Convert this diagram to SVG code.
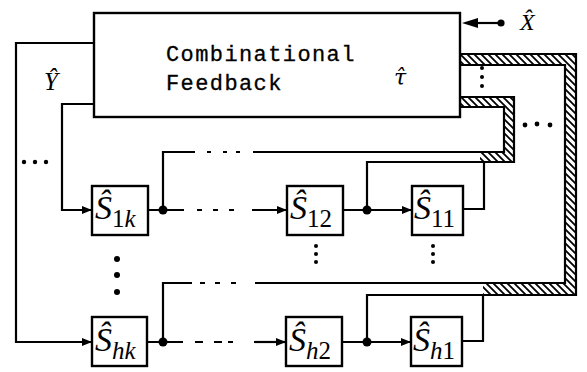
<svg xmlns="http://www.w3.org/2000/svg" width="587" height="372" viewBox="0 0 587 372">
<style>
.w{fill:none;stroke:#000;stroke-width:2.2;stroke-linejoin:miter;stroke-linecap:butt}
.bx{fill:#fff;stroke:#000;stroke-width:2.4}
.dot{fill:#000}
.mono{font-family:"Liberation Mono","DejaVu Sans Mono",monospace;font-size:22px;letter-spacing:1.4px;fill:#000;stroke:#000;stroke-width:0.3}
.m{font-family:"Liberation Serif","DejaVu Serif",serif;font-style:italic;fill:#000}
.dj{font-family:"DejaVu Serif","Liberation Serif",serif;font-style:italic;fill:#000}
.s{font-size:34px}
.sub{font-size:25px}
.up{font-style:normal}
.hatch{fill:url(#hp);stroke:none}
</style>
<defs>
<pattern id="hp" patternUnits="userSpaceOnUse" width="7" height="7">
<path d="M0,0 L7,7 M-1,6 L1,8 M6,-1 L8,1" stroke="#000" stroke-width="1.8"/>
</pattern>
<marker id="ar" viewBox="0 0 10 8" refX="10" refY="4" markerWidth="10" markerHeight="8" markerUnits="userSpaceOnUse" orient="auto">
<path d="M0,0 L10,4 L0,8 Z" fill="#000"/>
</marker>
</defs>

<g id="feedback">
<rect class="bx" x="94" y="13" width="366" height="104"/>
<text class="mono" x="166" y="61">Combinational</text>
<text class="mono" x="166" y="90">Feedback</text>
<text class="dj" x="394" y="85" font-size="22">τ̂</text>
</g>

<g id="connectors">
<polygon class="hatch" points="460,54 576,54 576,295 483,295 483,283 565,283 565,65 460,65"/>
<polygon class="hatch" points="460,97 514,97 514,162 480,162 480,152 504,152 504,107 460,107"/>
<polyline class="w" points="460,54 576,54 576,295 367,295 367,342"/>
<polyline class="w" points="460,65 565,65 565,283 255,283"/>
<polyline class="w" points="460,97 514,97 514,162 367,162 367,210"/>
<polyline class="w" points="460,107 504,107 504,152 253,152"/>
<polyline class="w" points="463,209 484,209 484,162"/>
<polyline class="w" points="462,341 483,341 483,295"/>
<polyline class="w" points="195,152 163,152 163,210"/>
<path class="w" d="M207,152h4 M223,152h4 M236,152h4"/>
<polyline class="w" points="192,283 163,283 163,342"/>
<path class="w" d="M200,283h5 M215,283h5 M231,283h5"/>
<polyline class="w" points="94,104 62,104 62,210 92,210" marker-end="url(#ar)"/>
<polyline class="w" points="94,43 16,43 16,342 92,342" marker-end="url(#ar)"/>
<line class="w" x1="148" y1="210" x2="184" y2="210"/>
<path class="w" d="M197,210h5 M213,210h5 M229,210h5"/>
<line class="w" x1="252" y1="210" x2="287" y2="210" marker-end="url(#ar)"/>
<line class="w" x1="343" y1="210" x2="412" y2="210" marker-end="url(#ar)"/>
<line class="w" x1="147" y1="342" x2="183" y2="342"/>
<path class="w" d="M195,342h8 M214,342h8 M228,342h5"/>
<line class="w" x1="254" y1="342" x2="286" y2="342" marker-end="url(#ar)"/>
<line class="w" x1="342" y1="342" x2="411" y2="342" marker-end="url(#ar)"/>
<circle class="dot" cx="163" cy="210" r="4.5"/>
<circle class="dot" cx="367" cy="210" r="4.5"/>
<circle class="dot" cx="163" cy="342" r="4.5"/>
<circle class="dot" cx="367" cy="342" r="4.5"/>
<line class="w" x1="478" y1="23" x2="501" y2="23"/>
<path d="M462,23 L478,18 L478,28 Z" fill="#000"/>
<circle class="dot" cx="501" cy="23" r="3.6"/>
<g class="dot">
<circle cx="24" cy="162" r="2.2"/><circle cx="35" cy="162" r="2.2"/><circle cx="46" cy="162" r="2.2"/>
<circle cx="117" cy="259" r="3"/><circle cx="117" cy="275" r="3"/><circle cx="117" cy="292" r="3"/>
<circle cx="316" cy="246" r="2"/><circle cx="316" cy="254" r="2"/><circle cx="316" cy="262" r="2"/>
<circle cx="433" cy="246" r="2"/><circle cx="433" cy="254" r="2"/><circle cx="433" cy="262" r="2"/>
<circle cx="482" cy="68" r="2"/><circle cx="482" cy="77" r="2"/><circle cx="482" cy="86" r="2"/>
<circle cx="525" cy="125" r="2.4"/><circle cx="537" cy="124" r="2.4"/><circle cx="550" cy="125" r="2.4"/>
</g>
</g>

<text class="m" x="44" y="90" font-size="25">Ŷ</text>
<text class="m" x="520" y="30" font-size="24">X̂</text>

<g id="S1k">
<rect class="bx" x="92" y="186" width="56" height="49"/>
<text class="m s" x="95" y="219">Ŝ<tspan class="sub" dy="8"><tspan class="up">1</tspan>k</tspan></text>
</g>
<g id="S12">
<rect class="bx" x="287" y="186" width="56" height="49"/>
<text class="m s" x="290" y="219">Ŝ<tspan class="sub up" dy="8">12</tspan></text>
</g>
<g id="S11">
<rect class="bx" x="412" y="186" width="51" height="49"/>
<text class="m s" x="414" y="219">Ŝ<tspan class="sub up" dy="8">11</tspan></text>
</g>
<g id="Shk">
<rect class="bx" x="92" y="317" width="55" height="49"/>
<text class="m s" x="95" y="351">Ŝ<tspan class="sub" dy="8">hk</tspan></text>
</g>
<g id="Sh2">
<rect class="bx" x="286" y="317" width="56" height="49"/>
<text class="m s" x="289" y="351">Ŝ<tspan class="sub" dy="8">h<tspan class="up">2</tspan></tspan></text>
</g>
<g id="Sh1">
<rect class="bx" x="411" y="317" width="51" height="49"/>
<text class="m s" x="413" y="351">Ŝ<tspan class="sub" dy="8">h<tspan class="up">1</tspan></tspan></text>
</g>
</svg>
